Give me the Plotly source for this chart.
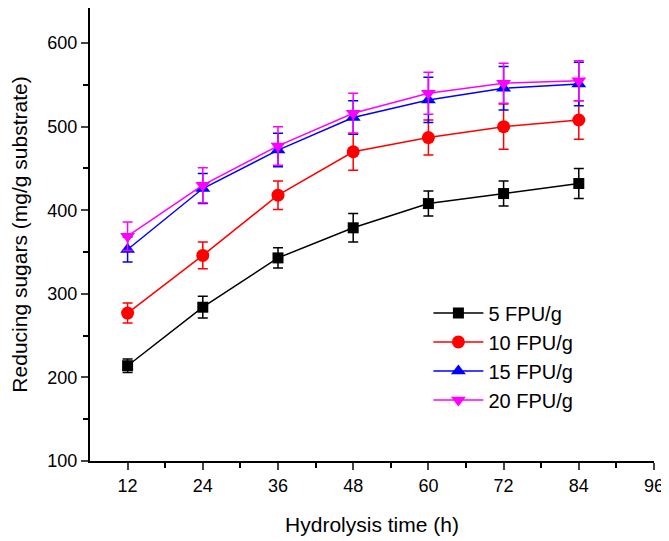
import plotly.graph_objects as go

time_h = [12, 24, 36, 48, 60, 72, 84]
series_names = ["5 FPU/g", "10 FPU/g", "15 FPU/g", "20 FPU/g"]
s5 = [214, 284, 343, 379, 408, 420, 432]
e5 = [8, 13, 12, 17, 15, 15, 18]
s10 = [277, 346, 418, 470, 487, 500, 508]
e10 = [12, 16, 17, 22, 21, 27, 23]
s15 = [353, 426, 472, 511, 532, 546, 551]
e15 = [15, 18, 20, 20, 27, 26, 26]
s20 = [369, 430, 477, 516, 540, 552, 555]
e20 = [17, 21, 23, 24, 25, 24, 24]
x_ticks = [12, 24, 36, 48, 60, 72, 84, 96]
y_ticks = [100, 200, 300, 400, 500, 600]

colors = ["#000000", "#ff0000", "#0000ff", "#ff00ff"]
symbols = ["square", "circle", "triangle-up", "triangle-down"]
sizes = [11, 13, 13, 13]

fig = go.Figure()
for name, ys, es, c, sym, sz in zip(series_names, [s5, s10, s15, s20], [e5, e10, e15, e20], colors, symbols, sizes):
    fig.add_trace(go.Scatter(
        x=time_h, y=ys, name=name, mode="lines+markers",
        line=dict(color=c, width=1.5),
        marker=dict(symbol=sym, size=sz, color=c),
        error_y=dict(type="data", array=es, visible=True, color=c, thickness=1.5, width=5),
    ))

# the page body adds an 8 px margin, so the figure is sized to fit the 669x541 window
fig.update_layout(
    width=661, height=533,
    paper_bgcolor="white", plot_bgcolor="white",
    margin=dict(l=82, r=15, t=0, b=80),
    font=dict(family="Liberation Sans, Arial, sans-serif", color="#000000"),
    legend=dict(x=0.6, y=0.37, xanchor="left", yanchor="top",
                bgcolor="rgba(0,0,0,0)", font=dict(size=20), itemwidth=50,
                tracegroupgap=0),
    showlegend=True,
)
fig.update_xaxes(
    range=[6, 96], tickvals=x_ticks, ticks="outside", ticklen=7, tickwidth=2,
    showline=True, linewidth=2, linecolor="black", showgrid=False, zeroline=False,
    automargin=False, tickfont=dict(size=18), ticklabeloverflow="allow",
    minor=dict(tickvals=[18, 30, 42, 54, 66, 78, 90], ticks="outside", ticklen=5, tickwidth=2, tickcolor="black"),
    title=dict(text="Hydrolysis time (h)", font=dict(size=21), standoff=23),
)
fig.update_yaxes(
    range=[100, 642], tickvals=y_ticks, ticks="outside", ticklen=7, tickwidth=2,
    showline=True, linewidth=2, linecolor="black", showgrid=False, zeroline=False,
    automargin=False, tickfont=dict(size=18), ticklabeloverflow="allow",
    minor=dict(tickvals=[150, 250, 350, 450, 550], ticks="outside", ticklen=5, tickwidth=2, tickcolor="black"),
    title=dict(text="Reducing sugars (mg/g substrate)", font=dict(size=21), standoff=27),
)
fig.write_html("out.html")
